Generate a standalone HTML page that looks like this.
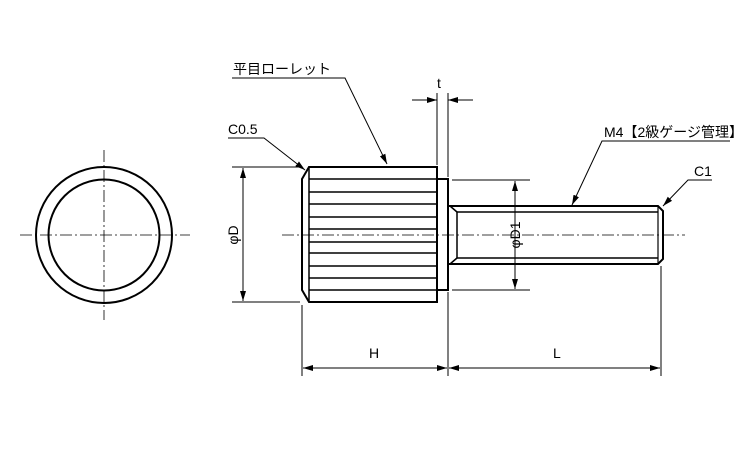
<!DOCTYPE html>
<html><head><meta charset="utf-8"><style>
html,body{margin:0;padding:0;background:#fff;}
svg{display:block;font-family:"Liberation Sans","Noto Sans CJK JP",sans-serif;}
</style></head><body>
<svg width="750" height="450" viewBox="0 0 750 450" xmlns="http://www.w3.org/2000/svg">
<defs>
<marker id="a" viewBox="0 0 10 6" refX="10" refY="3" markerWidth="10" markerHeight="6" orient="auto-start-reverse" markerUnits="userSpaceOnUse"><path d="M0,0 L10,3 L0,6 z" fill="#000"/></marker>
</defs>
<g stroke="#000" fill="none">
<g stroke-width="0.8" stroke-dasharray="12,3,2,3">
<line x1="20" y1="235" x2="190" y2="235"/>
<line x1="104" y1="150" x2="104" y2="320"/>
<line x1="282" y1="235" x2="685" y2="235"/>
</g>
<circle cx="104" cy="235" r="68" stroke-width="2"/>
<circle cx="104" cy="235" r="55.5" stroke-width="2"/>
<path d="M309,167 L437,167 L437,302 L309,302 L302,290 L302,179 Z" stroke-width="2"/>
<line x1="309" y1="167" x2="309" y2="302" stroke-width="1.5"/>
<g stroke-width="1.6">
<line x1="309" y1="179" x2="437" y2="179"/>
<line x1="309" y1="192" x2="437" y2="192"/>
<line x1="309" y1="204" x2="437" y2="204"/>
<line x1="309" y1="217" x2="437" y2="217"/>
<line x1="309" y1="229" x2="437" y2="229"/>
<line x1="309" y1="242" x2="437" y2="242"/>
<line x1="309" y1="253" x2="437" y2="253"/>
<line x1="309" y1="266" x2="437" y2="266"/>
<line x1="309" y1="278" x2="437" y2="278"/>
<line x1="309" y1="290" x2="437" y2="290"/>
</g>
<rect x="437" y="179" width="11" height="111" stroke-width="2"/>
<path d="M448,206 L658,206 L663,211 L663,259 L658,264 L448,264" stroke-width="2"/>
<line x1="450" y1="206" x2="457" y2="212" stroke-width="1.5"/>
<line x1="450" y1="264" x2="457" y2="258" stroke-width="1.5"/>
<line x1="457" y1="212" x2="658" y2="212" stroke-width="1.6"/>
<line x1="457" y1="258" x2="658" y2="258" stroke-width="1.6"/>
<line x1="457" y1="212" x2="457" y2="258" stroke-width="1.5"/>
<line x1="658" y1="206" x2="658" y2="264" stroke-width="1.2"/>
<g stroke-width="1">
<line x1="232" y1="167" x2="300" y2="167"/>
<line x1="232" y1="302" x2="300" y2="302"/>
<line x1="243" y1="168" x2="243" y2="301" marker-start="url(#a)" marker-end="url(#a)"/>
<line x1="452" y1="180" x2="530" y2="180"/>
<line x1="452" y1="290" x2="530" y2="290"/>
<line x1="515" y1="181" x2="515" y2="289" marker-start="url(#a)" marker-end="url(#a)"/>
<line x1="437" y1="93" x2="437" y2="165"/>
<line x1="448" y1="93" x2="448" y2="177"/>
<line x1="412" y1="100" x2="437" y2="100" marker-end="url(#a)"/>
<line x1="473" y1="100" x2="448" y2="100" marker-end="url(#a)"/>
<line x1="302" y1="305" x2="302" y2="376"/>
<line x1="448" y1="292" x2="448" y2="376"/>
<line x1="661" y1="266" x2="661" y2="376"/>
<line x1="303" y1="368" x2="447" y2="368" marker-start="url(#a)" marker-end="url(#a)"/>
<line x1="449" y1="368" x2="660" y2="368" marker-start="url(#a)" marker-end="url(#a)"/>
<polyline points="232,78 345,78 387,164" marker-end="url(#a)"/>
<polyline points="228,138 264,138 305,170" marker-end="url(#a)"/>
<polyline points="730,141 602,141 572,205" marker-end="url(#a)"/>
<polyline points="712,180 688,180 663,206" marker-end="url(#a)"/>
</g>
</g>
<g font-size="14" fill="#000">
<text x="233" y="74">平目ローレット</text>
<text x="228" y="134">C0.5</text>
<text x="437" y="88">t</text>
<text x="604" y="137">M4【2級ゲージ管理】</text>
<text x="694" y="176">C1</text>
<text x="369" y="358">H</text>
<text x="553" y="358">L</text>
<text transform="translate(238,235) rotate(-90)" text-anchor="middle">φD</text>
<text transform="translate(520,235) rotate(-90)" text-anchor="middle">φD1</text>
</g>
</svg>
</body></html>
